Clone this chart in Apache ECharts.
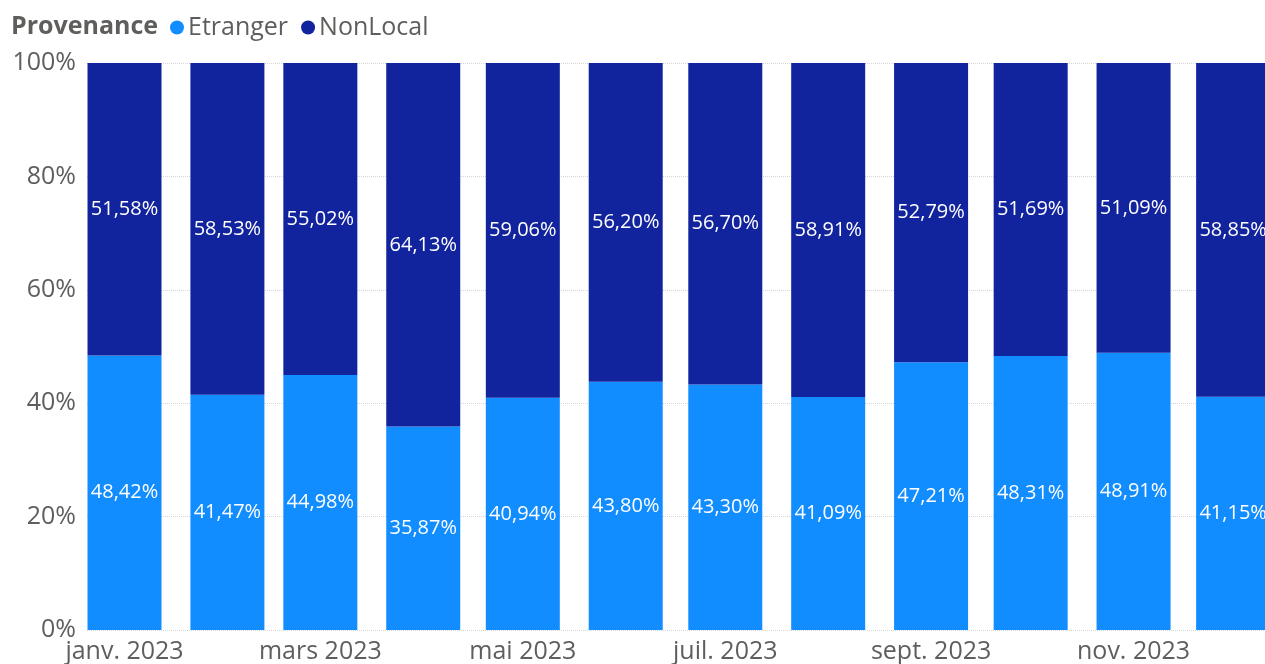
<!DOCTYPE html>
<html><head><meta charset="utf-8">
<script src="https://cdn.jsdelivr.net/npm/echarts@6/dist/echarts.min.js"></script>
<style>html,body{margin:0;padding:0;background:#fff}#c{width:1265px;height:664px}</style>
</head><body><div id="c"></div>
<script>
const months = ['2023-01-01','2023-02-01','2023-03-01','2023-04-01','2023-05-01','2023-06-01','2023-07-01','2023-08-01','2023-09-01','2023-10-01','2023-11-01','2023-12-01'];
const etranger = [48.42,41.47,44.98,35.87,40.94,43.80,43.30,41.09,47.21,48.31,48.91,41.15];
const nonLocal = [51.58,58.53,55.02,64.13,59.06,56.20,56.70,58.91,52.79,51.69,51.09,58.85];
const tickDates = ['2023-01-01','2023-03-01','2023-05-01','2023-07-01','2023-09-01','2023-11-01'];
const tickLabels = ['janv. 2023','mars 2023','mai 2023','juil. 2023','sept. 2023','nov. 2023'];

const ts = s => { const [y,m,d] = s.split('-').map(Number); return Date.UTC(y, m-1, d); };
const DAY = 86400000;
const X_MIN = ts('2023-01-01') - 11.3*DAY;
const X_MAX = ts('2023-01-01') + 343.6*DAY;
const FONT = '"Segoe UI", "Open Sans", "Noto Sans", sans-serif';
const GREY = '#605E5C';
const fmt = v => v.toFixed(2).replace('.', ',') + '%';

const tickTs = tickDates.map(ts);
const chart = echarts.init(document.getElementById('c'));
chart.setOption({
  animation: false,
  textStyle: { fontFamily: FONT },
  title: { text: 'Provenance', left: 6, top: 9, textStyle: { fontFamily: FONT, fontSize: 25, fontWeight: 'bold', color: GREY } },
  legend: {
    left: 165, top: 10, icon: 'circle', itemWidth: 14, itemHeight: 14, itemGap: 13,
    textStyle: { fontFamily: FONT, fontSize: 25, color: GREY, padding: [0,0,0,-1] },
    data: ['Etranger','NonLocal']
  },
  grid: { left: 87, right: 0, top: 63, bottom: 34, containLabel: false },
  xAxis: {
    type: 'value', min: X_MIN, max: X_MAX,
    axisLine: { show: false }, axisTick: { show: false }, splitLine: { show: false },
    axisLabel: {
      customValues: tickTs, margin: 9,
      fontFamily: FONT, fontSize: 25, color: GREY,
      formatter: v => { const i = tickTs.indexOf(v); return i >= 0 ? tickLabels[i] : ''; }
    }
  },
  yAxis: {
    type: 'value', min: 0, max: 100, interval: 20,
    axisLine: { show: false }, axisTick: { show: false },
    axisLabel: { fontFamily: FONT, fontSize: 25, color: GREY, margin: 11, formatter: v => v + '%' },
    splitLine: { show: true, lineStyle: { type: 'dotted', color: '#D6D6D6', width: 1 } }
  },
  series: [
    { name: 'Etranger', type: 'bar', stack: 'a', barWidth: 74, itemStyle: { color: '#118DFF' },
      encode: { x: 1, y: 0 },
      data: months.map((m,i) => [etranger[i], ts(m)]),
      label: { show: true, position: 'inside', color: '#fff', fontFamily: FONT, fontSize: 20, formatter: p => fmt(p.value[0]) } },
    { name: 'NonLocal', type: 'bar', stack: 'a', barWidth: 74, itemStyle: { color: '#12239E' },
      encode: { x: 1, y: 0 },
      data: months.map((m,i) => [nonLocal[i], ts(m)]),
      label: { show: true, position: 'inside', color: '#fff', fontFamily: FONT, fontSize: 20, formatter: p => fmt(p.value[0]) } }
  ]
});
</script></body></html>
